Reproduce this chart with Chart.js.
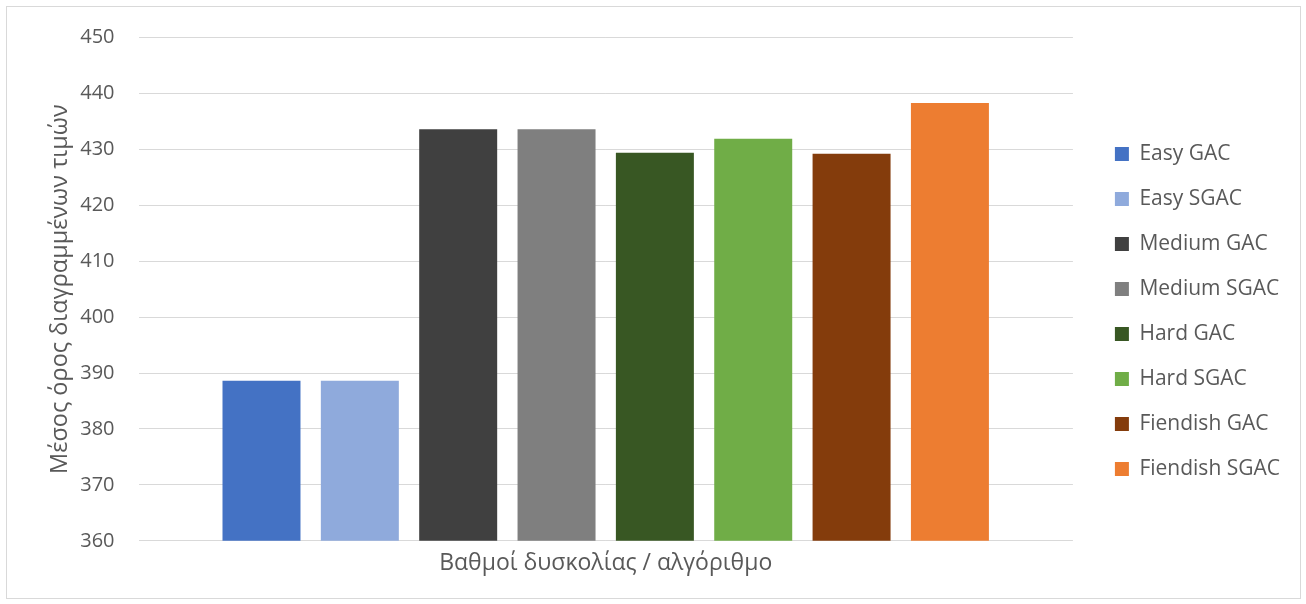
<!DOCTYPE html>
<html lang="el">
<head>
    <meta charset="UTF-8">
    <script src="https://cdn.jsdelivr.net/npm/chart.js"></script>
    <title>Μέσος όρος διαγραμμένων τιμών</title>
    <style>
        body { margin: 0; background: #fff; }
        #box {
            position: absolute; left: 6px; top: 6px;
            width: 1293px; height: 591px;
            border: 1px solid #d9d9d9;
        }
    </style>
</head>
<body>
    <div id="box">
        <canvas id="grafico" width="1293" height="591"></canvas>
    </div>

    <script>
        const categorias = ['']
        const series = ['Easy GAC', 'Easy SGAC', 'Medium GAC', 'Medium SGAC',
                        'Hard GAC', 'Hard SGAC', 'Fiendish GAC', 'Fiendish SGAC']
        const valores = [388.6, 388.6, 433.6, 433.6, 429.4, 431.9, 429.2, 438.3]
        const cores = ['#4472C4', '#8FAADC', '#404040', '#7F7F7F',
                       '#385723', '#70AD47', '#843C0C', '#ED7D31']
        const yMin = 360, yMax = 450, yPasso = 10

        // extra room between plot area and legend, and a small nudge down
        const GAP = 18
        const DESCE = 2

        const legendGap = {
            id: 'legendGap',
            beforeInit(chart) {
                const fit = chart.legend.fit
                chart.legend.fit = function () {
                    fit.call(this)
                    this.width += GAP
                }
            },
            afterLayout(chart) {
                const lg = chart.legend
                lg.left += GAP
                lg.right += GAP
                lg.top += DESCE
                lg.bottom += DESCE
            }
        }

        Chart.defaults.font.family = "'Open Sans', sans-serif"
        Chart.defaults.color = '#595959'

        const ctx = document.getElementById('grafico')

        const grafico = new Chart(ctx, {
            type: 'bar',
            data: {
                labels: categorias,
                datasets: series.map((nome, i) => ({
                    label: nome,
                    data: [valores[i]],
                    backgroundColor: cores[i],
                    categoryPercentage: 0.842,
                    barPercentage: 0.793
                }))
            },
            options: {
                responsive: false,
                animation: false,
                layout: { padding: { top: 30.5, left: 35, bottom: 16.6, right: 10 } },
                plugins: {
                    tooltip: { enabled: false },
                    legend: {
                        position: 'right',
                        labels: {
                            boxWidth: 14,
                            boxHeight: 14,
                            padding: 24,
                            font: { size: 21 },
                            color: '#595959'
                        }
                    }
                },
                scales: {
                    x: {
                        grid: { display: false },
                        border: { display: false },
                        ticks: { display: false },
                        title: {
                            display: true,
                            text: 'Βαθμοί δυσκολίας / αλγόριθμο',
                            font: { size: 23 },
                            padding: { top: 1 }
                        }
                    },
                    y: {
                        min: yMin,
                        max: yMax,
                        grid: { color: '#d9d9d9', drawTicks: false },
                        border: { display: false },
                        ticks: { stepSize: yPasso, padding: 24, font: { size: 20 } },
                        title: {
                            display: true,
                            text: 'Μέσος όρος διαγραμμένων τιμών',
                            font: { size: 23.5 },
                            padding: { bottom: -18 }
                        },
                        // top label padding would otherwise push the plot down
                        afterFit(s) { s.paddingTop = 0 }
                    }
                }
            },
            plugins: [legendGap]
        })
    </script>
</body>
</html>
